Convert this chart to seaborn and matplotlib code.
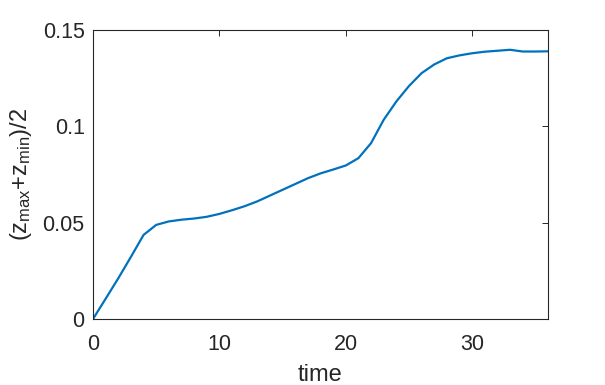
import numpy as np
import matplotlib
matplotlib.use("Agg")
import matplotlib.pyplot as plt
import seaborn as sns

# values (one per time step)
time = list(range(37))
zmid = [0.0, 0.0105, 0.0211, 0.0322, 0.0436, 0.0488, 0.0506, 0.0515, 0.0521, 0.0530,
        0.0545, 0.0564, 0.0585, 0.0610, 0.0640, 0.0670, 0.0700, 0.0730, 0.0755, 0.0775,
        0.0796, 0.0834, 0.0912, 0.1033, 0.1128, 0.1208, 0.1275, 0.1320, 0.1352, 0.1367,
        0.1378, 0.1386, 0.1391, 0.1396, 0.1387, 0.1387, 0.1388]
xticks = [0, 10, 20, 30]
yticks = [0, 0.05, 0.1, 0.15]
yticklabels = ["0", "0.05", "0.1", "0.15"]

sns.set_style("white")
plt.rcParams['font.family'] = ['Liberation Sans', 'DejaVu Sans']
plt.rcParams['mathtext.default'] = 'regular'

fig = plt.figure(figsize=(6.05, 3.85), dpi=100)
ax = fig.add_axes([0.1537, 0.1714, 0.7521, 0.7514])

sns.lineplot(x=time, y=zmid, ax=ax, color="#0072BD", linewidth=1.6)

ax.set_xlim(0, 36)
ax.set_ylim(0, 0.15)
ax.set_xticks(xticks)
ax.set_yticks(yticks)
ax.set_yticklabels(yticklabels)
ax.tick_params(direction="in", top=True, right=True, length=4, width=0.7,
               labelsize=15.5, colors="#262626")
ax.tick_params(axis="x", pad=11)
ax.tick_params(axis="y", pad=6)
for s in ax.spines.values():
    s.set_color("#262626")
    s.set_linewidth(0.8)

ax.set_xlabel("time", fontsize=17, color="#262626", labelpad=6)
ax.set_ylabel(r"$(z_{max}{+}z_{min})/2$", fontsize=17, color="#262626", labelpad=6)

fig.savefig("out.png", dpi=100)
